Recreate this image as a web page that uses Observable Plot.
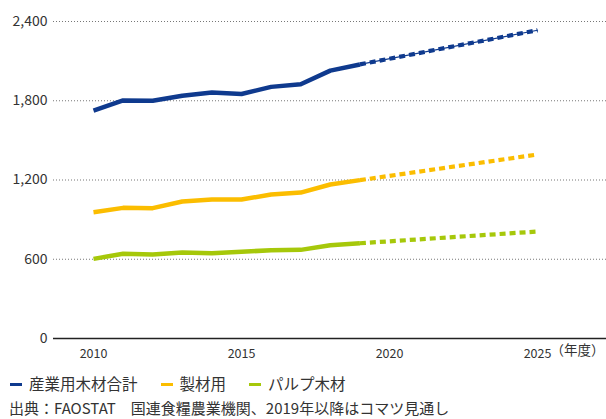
<!DOCTYPE html>
<html>
<head>
<meta charset="utf-8">
<script src="https://cdn.jsdelivr.net/npm/d3@7"></script>
<script src="https://cdn.jsdelivr.net/npm/@observablehq/plot@0.6"></script>
<style>
  body { margin: 0; background: #fff; font-family: "Noto Sans CJK JP", "Noto Sans", sans-serif; color: #333; }
  #chart svg { display: block; }
  .legend { margin-top: 9px; height: 18px; line-height: 18px; font-size: 15.5px; padding-left: 10px; color: #333; white-space: nowrap; }
  .legend span.item { margin-right: 23px; }
  .legend span.sw { display: inline-block; width: 12px; height: 3px; vertical-align: middle; margin-right: 7px; position: relative; top: -1px; }
  .caption { margin-top: 7px; height: 18px; line-height: 18px; font-size: 15px; padding-left: 9px; color: #333; white-space: nowrap; }
</style>
</head>
<body>
<div id="chart"></div>
<div class="legend" id="legend"></div>
<div class="caption">出典：FAOSTAT　国連食糧農業機関、2019年以降はコマツ見通し</div>
<script>
const years = [2010, 2011, 2012, 2013, 2014, 2015, 2016, 2017, 2018, 2019];
const seriesNames = ["産業用木材合計", "製材用", "パルプ木材"];
const seriesColors = ["#0f3a8e", "#fbbd00", "#a6c80a"];
const totalValues = [1726, 1802, 1800, 1838, 1862, 1851, 1905, 1925, 2028, 2075];
const sawnValues = [956, 989, 987, 1037, 1052, 1052, 1090, 1105, 1166, 1199];
const pulpValues = [603, 641, 636, 651, 646, 656, 669, 671, 706, 721];
const projYears = [2019, 2025];
const totalProj = [2075, 2334];
const sawnProj = [1199, 1393];
const pulpProj = [721, 810];
const yTicks = [0, 600, 1200, 1800, 2400];
const xTicks = [2010, 2015, 2020, 2025];
const xUnit = "（年度）";

const actual = [];
const proj = [];
[totalValues, sawnValues, pulpValues].forEach((vals, i) => {
  years.forEach((y, j) => actual.push({year: y, value: vals[j], series: seriesNames[i]}));
});
[totalProj, sawnProj, pulpProj].forEach((vals, i) => {
  projYears.forEach((y, j) => proj.push({year: y, value: vals[j], series: seriesNames[i]}));
});

const chart = Plot.plot({
  width: 606,
  height: 365,
  marginLeft: 53,
  marginRight: 0,
  marginTop: 21,
  marginBottom: 27,
  style: {fontFamily: '"Noto Sans CJK JP", "Noto Sans", sans-serif', fontSize: "13px", color: "#333"},
  x: {domain: [2010, 2025], range: [93, 537]},
  y: {domain: [0, 2400], ticks: yTicks},
  color: {domain: seriesNames, range: seriesColors},
  marks: [
    Plot.gridY(yTicks.filter(d => d > 0), {stroke: "#777", strokeOpacity: 1, strokeDasharray: "1,2", strokeWidth: 1}),
    Plot.ruleY([0], {stroke: "#222", strokeWidth: 1.5}),
    Plot.axisY({ticks: yTicks, tickSize: 0, tickPadding: 6, tickFormat: d3.format(","), fontSize: 14, label: null}),
    Plot.axisX({ticks: xTicks, tickSize: 0, tickPadding: 11, tickFormat: d => String(d), fontSize: 12.5, label: null}),
    Plot.text([xUnit], {frameAnchor: "bottom-right", dy: 16, dx: -2, textAnchor: "end", fontSize: 13.5, fill: "#333"}),
    Plot.line(proj.filter(d => d.series === seriesNames[0]), {x: "year", y: "value", stroke: "series", strokeWidth: 1.2}),
    Plot.line(proj, {x: "year", y: "value", stroke: "series", z: "series", strokeWidth: 4.2, strokeDasharray: "6,4", strokeLinecap: "butt"}),
    Plot.line(actual, {x: "year", y: "value", stroke: "series", z: "series", strokeWidth: 4.5, strokeLinejoin: "round", strokeLinecap: "butt"})
  ]
});
document.getElementById("chart").appendChild(chart);

const legend = document.getElementById("legend");
seriesNames.forEach((n, i) => {
  const s = document.createElement("span");
  s.className = "item";
  s.innerHTML = `<span class="sw" style="background:${seriesColors[i]}"></span>${n}`;
  legend.appendChild(s);
});
</script>
</body>
</html>
